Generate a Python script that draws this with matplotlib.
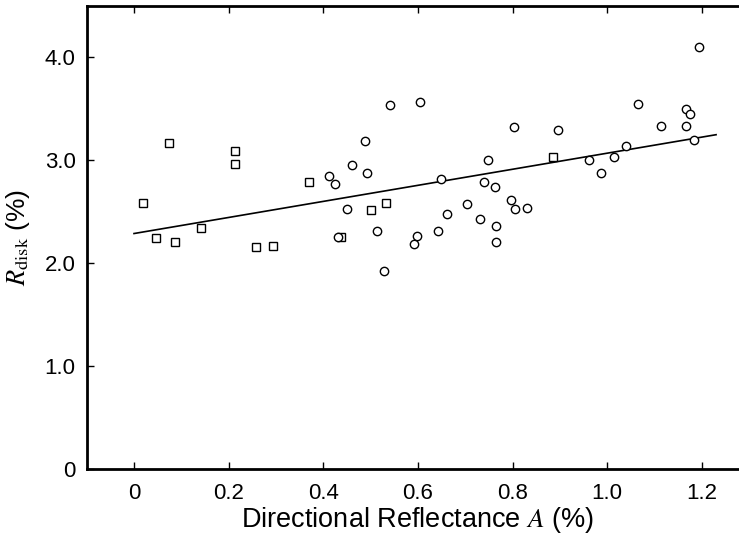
import numpy as np
import matplotlib
matplotlib.use('Agg')
import matplotlib.pyplot as plt
from matplotlib import rcParams

rcParams['font.family'] = 'sans-serif'
rcParams['font.sans-serif'] = ['Liberation Sans', 'DejaVu Sans']
rcParams['mathtext.fontset'] = 'stix'

# square markers
sq_x = [0.018, 0.074, 0.214, 0.213, 0.369, 0.046, 0.087, 0.142, 0.257, 0.294,
        0.437, 0.501, 0.533, 0.885]
sq_y = [2.59, 3.17, 3.09, 2.97, 2.79, 2.25, 2.21, 2.34, 2.16, 2.17,
        2.26, 2.52, 2.59, 3.03]

# circle markers
ci_x = [0.541, 0.489, 0.461, 0.492, 0.413, 0.425, 0.451, 0.432, 0.513, 0.529,
        0.604, 1.193, 1.064, 1.167, 1.175, 1.114, 1.167, 0.804, 0.896, 1.184,
        1.040, 1.015, 0.962, 0.986, 0.748, 0.648, 0.739, 0.763, 0.797, 0.806,
        0.831, 0.703, 0.661, 0.732, 0.766, 0.765, 0.643, 0.598, 0.592]
ci_y = [3.54, 3.19, 2.96, 2.88, 2.85, 2.77, 2.53, 2.26, 2.31, 1.93,
        3.57, 4.10, 3.55, 3.50, 3.45, 3.33, 3.33, 3.32, 3.30, 3.20,
        3.14, 3.03, 3.00, 2.88, 3.00, 2.82, 2.79, 2.74, 2.62, 2.53,
        2.54, 2.58, 2.48, 2.43, 2.36, 2.21, 2.31, 2.27, 2.19]

# regression line ends
fit_x = [0.0, 1.23]
fit_y = [2.29, 3.25]

xticks = [0, 0.2, 0.4, 0.6, 0.8, 1.0, 1.2]
xticklabels = ['0', '0.2', '0.4', '0.6', '0.8', '1.0', '1.2']
yticks = [0, 1.0, 2.0, 3.0, 4.0]
yticklabels = ['0', '1.0', '2.0', '3.0', '4.0']

fig = plt.figure(figsize=(7.39, 5.37), dpi=100)
ax = fig.add_axes([0.1173, 0.1261, 0.8965, 0.8627])

ax.plot(fit_x, fit_y, color='black', linewidth=1.2, zorder=2)
ax.plot(sq_x, sq_y, linestyle='none', marker='s', markersize=5.5,
        markerfacecolor='white', markeredgecolor='black', markeredgewidth=1.0, zorder=3)
ax.plot(ci_x, ci_y, linestyle='none', marker='o', markersize=6,
        markerfacecolor='white', markeredgecolor='black', markeredgewidth=1.0, zorder=3)

ax.set_xlim(-0.1, 1.3)
ax.set_ylim(0, 4.5)
ax.set_xticks(xticks)
ax.set_xticklabels(xticklabels)
ax.set_yticks(yticks)
ax.set_yticklabels(yticklabels)

for s in ax.spines.values():
    s.set_linewidth(2.0)

ax.tick_params(axis='x', direction='in', top=True, length=5, width=1.0, pad=10, labelsize=16)
ax.tick_params(axis='y', direction='in', length=5, width=1.0, pad=8, labelsize=16)

ax.set_xlabel('Directional Reflectance $A$ (%)', fontsize=19.5)
ax.set_ylabel(r'$R_{\mathrm{disk}}$ (%)', fontsize=19)
ax.xaxis.set_label_coords(0.5, -0.078)
ax.yaxis.set_label_coords(-0.082, 0.5)

fig.savefig('out.png', dpi=100)
